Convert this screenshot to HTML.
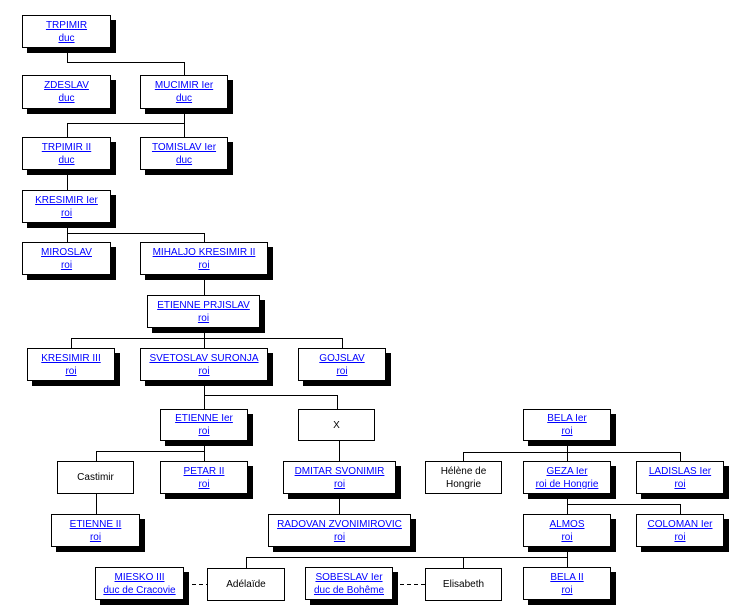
<!DOCTYPE html>
<html><head><meta charset="utf-8"><style>
body{margin:0;background:#fff;width:741px;height:615px;position:relative;overflow:hidden;font-family:"Liberation Sans",Arial,sans-serif;font-size:10px;}
.b{position:absolute;box-sizing:border-box;border:1px solid #000;background:#fff;display:flex;flex-direction:column;justify-content:center;align-items:center;text-align:center;line-height:13px;}
.s{box-shadow:5px 5px 0 #000;}
a{color:#00f;text-decoration:underline;}
svg{position:absolute;left:0;top:0;}
</style></head><body>
<svg width="741" height="615">
<g stroke="#000" stroke-width="1" fill="none" shape-rendering="crispEdges">
<path d="M67.5 48V62.5H184.5V75"/>
<path d="M184.5 109V123.5H67.5V137M184.5 123.5V137"/>
<path d="M67.5 170V190"/>
<path d="M67.5 223V233.5H204.5V242M67.5 233.5V242"/>
<path d="M204.5 275V295"/>
<path d="M204.5 328V338.5H71.5V348M204.5 338.5V348M204.5 338.5H342.5V348"/>
<path d="M204.5 381V395.5H337.5V409M204.5 395.5V409"/>
<path d="M204.5 441V451.5H96.5V461M204.5 451.5V461"/>
<path d="M96.5 494V514"/>
<path d="M339.5 441V461"/>
<path d="M339.5 494V514"/>
<path d="M567.5 441V452.5H463.5V461M567.5 452.5H680.5V461M567.5 452.5V461"/>
<path d="M567.5 494V504.5H680.5V514M567.5 504.5V514"/>
<path d="M567.5 547V557.5H246.5V568M463.5 557.5V568M567.5 557.5V567"/>
<path d="M185 584.5H207M393 584.5H425" stroke-dasharray="4,3"/>
</g></svg>
<div class="b s" style="left:22px;top:15px;width:89px;height:33px"><a>TRPIMIR</a><a>duc</a></div>
<div class="b s" style="left:22px;top:75px;width:89px;height:34px"><a>ZDESLAV</a><a>duc</a></div>
<div class="b s" style="left:140px;top:75px;width:88px;height:34px"><a>MUCIMIR Ier</a><a>duc</a></div>
<div class="b s" style="left:22px;top:137px;width:89px;height:33px"><a>TRPIMIR II</a><a>duc</a></div>
<div class="b s" style="left:140px;top:137px;width:88px;height:33px"><a>TOMISLAV Ier</a><a>duc</a></div>
<div class="b s" style="left:22px;top:190px;width:89px;height:33px"><a>KRESIMIR Ier</a><a>roi</a></div>
<div class="b s" style="left:22px;top:242px;width:89px;height:33px"><a>MIROSLAV</a><a>roi</a></div>
<div class="b s" style="left:140px;top:242px;width:128px;height:33px"><a>MIHALJO KRESIMIR II</a><a>roi</a></div>
<div class="b s" style="left:147px;top:295px;width:113px;height:33px"><a>ETIENNE PRJISLAV</a><a>roi</a></div>
<div class="b s" style="left:27px;top:348px;width:88px;height:33px"><a>KRESIMIR III</a><a>roi</a></div>
<div class="b s" style="left:140px;top:348px;width:128px;height:33px"><a>SVETOSLAV SURONJA</a><a>roi</a></div>
<div class="b s" style="left:298px;top:348px;width:88px;height:33px"><a>GOJSLAV</a><a>roi</a></div>
<div class="b s" style="left:160px;top:409px;width:88px;height:32px"><a>ETIENNE Ier</a><a>roi</a></div>
<div class="b" style="left:298px;top:409px;width:77px;height:32px">X</div>
<div class="b s" style="left:523px;top:409px;width:88px;height:32px"><a>BELA Ier</a><a>roi</a></div>
<div class="b" style="left:57px;top:461px;width:77px;height:33px">Castimir</div>
<div class="b s" style="left:160px;top:461px;width:88px;height:33px"><a>PETAR II</a><a>roi</a></div>
<div class="b s" style="left:283px;top:461px;width:113px;height:33px"><a>DMITAR SVONIMIR</a><a>roi</a></div>
<div class="b" style="left:425px;top:461px;width:77px;height:33px">Hélène de<br>Hongrie</div>
<div class="b s" style="left:523px;top:461px;width:88px;height:33px"><a>GEZA Ier</a><a>roi de Hongrie</a></div>
<div class="b s" style="left:636px;top:461px;width:88px;height:33px"><a>LADISLAS Ier</a><a>roi</a></div>
<div class="b s" style="left:51px;top:514px;width:89px;height:33px"><a>ETIENNE II</a><a>roi</a></div>
<div class="b s" style="left:268px;top:514px;width:143px;height:33px"><a>RADOVAN ZVONIMIROVIC</a><a>roi</a></div>
<div class="b s" style="left:523px;top:514px;width:88px;height:33px"><a>ALMOS</a><a>roi</a></div>
<div class="b s" style="left:636px;top:514px;width:88px;height:33px"><a>COLOMAN Ier</a><a>roi</a></div>
<div class="b s" style="left:95px;top:567px;width:89px;height:33px"><a>MIESKO III</a><a>duc de Cracovie</a></div>
<div class="b" style="left:207px;top:568px;width:78px;height:33px">Adélaïde</div>
<div class="b s" style="left:305px;top:567px;width:88px;height:33px"><a>SOBESLAV Ier</a><a>duc de Bohême</a></div>
<div class="b" style="left:425px;top:568px;width:77px;height:33px">Elisabeth</div>
<div class="b s" style="left:523px;top:567px;width:88px;height:33px"><a>BELA II</a><a>roi</a></div>
</body></html>
